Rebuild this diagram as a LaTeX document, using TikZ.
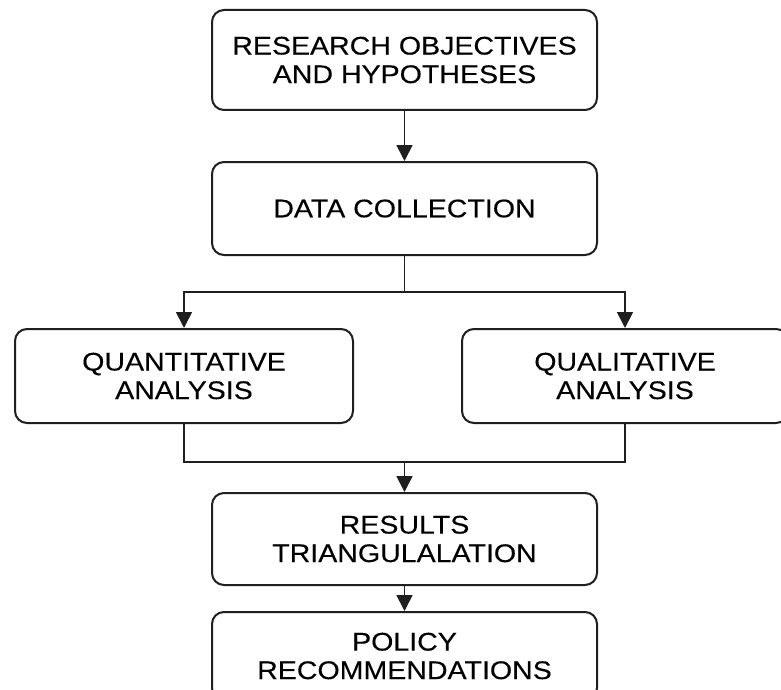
\documentclass[tikz,border=0pt]{standalone}
\usepackage{fontspec}
\setmainfont{Liberation Sans}[FakeStretch=1.12,FakeBold=0.25]
\usetikzlibrary{arrows.meta}
\begin{document}
\begin{tikzpicture}[x=1pt,y=-1pt,
  stepbox/.style={draw=black!88, line width=2pt, rounded corners=12pt,
    align=center, inner sep=0pt, font=\fontsize{25.5}{28.5}\selectfont},
  link/.style={draw=black!88, line width=1.8pt},
  arrowlink/.style={link, -{Triangle[length=16pt,width=16pt]}}]
  \useasboundingbox (0,0) rectangle (781,690);
  \clip (0,0) rectangle (781,690);
  \fill[white] (0,0) rectangle (781,690);

  \node[stepbox, minimum width=385pt, minimum height=100pt] (obj) at (404.5,60)
    {RESEARCH OBJECTIVES\\AND HYPOTHESES};
  \node[stepbox, minimum width=385pt, minimum height=93pt] (data) at (404.5,208.5)
    {DATA COLLECTION};
  \node[stepbox, minimum width=338pt, minimum height=94pt] (quant) at (184,376)
    {QUANTITATIVE\\ANALYSIS};
  \node[stepbox, minimum width=326pt, minimum height=94pt] (qual) at (625,376)
    {QUALITATIVE\\ANALYSIS};
  \node[stepbox, minimum width=385pt, minimum height=92pt] (tri) at (404.5,539)
    {RESULTS\\TRIANGULALATION};
  \node[stepbox, minimum width=385pt, minimum height=88pt] (policy) at (404.5,656)
    {POLICY\\RECOMMENDATIONS};

  \coordinate (split) at (404.5,292);
  \coordinate (join) at (404.5,462);

  \draw[arrowlink] (obj) -- (data);
  \draw[link] (data.south) -- (split);
  \draw[arrowlink] (split) -| (quant.north);
  \draw[arrowlink] (split) -| (qual.north);
  \draw[link] (quant.south) |- (join) -| (qual.south);
  \draw[arrowlink] (join) -- (tri.north);
  \draw[arrowlink] (tri) -- (policy);
\end{tikzpicture}
\end{document}
